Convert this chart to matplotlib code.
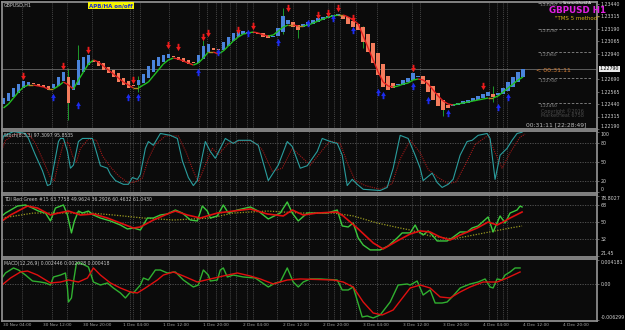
import numpy as np
import matplotlib.pyplot as plt
from matplotlib.path import Path
from matplotlib.collections import LineCollection

# ---- price data (GBPUSD H1, Heikin-Ashi closes) ----
first_open = 1.2244
closes = [1.2250, 1.2255, 1.2260, 1.2264, 1.2267, 1.2266, 1.2264, 1.2262, 1.2261, 1.2258,
          1.2264, 1.2271, 1.2276, 1.2245, 1.2268, 1.2288, 1.2291, 1.2293, 1.2286, 1.2282,
          1.2278, 1.2275, 1.2271, 1.2266, 1.2263, 1.2260, 1.2262, 1.2268, 1.2274, 1.2282,
          1.2288, 1.2291, 1.2293, 1.2294, 1.2291, 1.2288, 1.2286, 1.2284, 1.2285, 1.2293,
          1.2302, 1.2304, 1.2298, 1.2298, 1.2306, 1.2311, 1.2315, 1.2317, 1.2317, 1.2316,
          1.2315, 1.2314, 1.2311, 1.2310, 1.2312, 1.2320, 1.2332, 1.2328, 1.2321, 1.2318,
          1.2324, 1.2326, 1.2328, 1.2330, 1.2331, 1.2332, 1.2333, 1.2334, 1.2329, 1.2324,
          1.2321, 1.2318, 1.2306, 1.2296, 1.2285, 1.2273, 1.2261, 1.2258, 1.2260, 1.2264,
          1.2268, 1.2270, 1.2275, 1.2272, 1.2264, 1.2256, 1.2248, 1.2242, 1.2238, 1.2240,
          1.2244, 1.2245, 1.2247, 1.2248, 1.2250, 1.2252, 1.2254, 1.2256, 1.2251, 1.2255,
          1.2260, 1.2266, 1.2271, 1.2276, 1.2279]
ma = [1.2240, 1.2244, 1.2250, 1.2256, 1.2261, 1.2263, 1.2263, 1.2262, 1.2261, 1.2259,
      1.2259, 1.2262, 1.2266, 1.2263, 1.2259, 1.2268, 1.2276, 1.2284, 1.2288, 1.2286,
      1.2282, 1.2278, 1.2274, 1.2270, 1.2266, 1.2263, 1.2260, 1.2260, 1.2263, 1.2266,
      1.2272, 1.2278, 1.2284, 1.2288, 1.2290, 1.2289, 1.2287, 1.2285, 1.2283, 1.2285,
      1.2290, 1.2296, 1.2296, 1.2294, 1.2297, 1.2302, 1.2307, 1.2311, 1.2314, 1.2315,
      1.2316, 1.2315, 1.2313, 1.2312, 1.2313, 1.2317, 1.2321, 1.2323, 1.2323, 1.2322,
      1.2322, 1.2323, 1.2325, 1.2327, 1.2329, 1.2331, 1.2332, 1.2333, 1.2333, 1.2331,
      1.2328, 1.2324, 1.2312, 1.2300, 1.2288, 1.2276, 1.2266, 1.2262, 1.2261, 1.2262,
      1.2264, 1.2265, 1.2268, 1.2269, 1.2268, 1.2264, 1.2258, 1.2252, 1.2247, 1.2244,
      1.2243, 1.2244, 1.2245, 1.2246, 1.2247, 1.2248, 1.2249, 1.2250, 1.2250, 1.2252,
      1.2256, 1.2260, 1.2264, 1.2268, 1.2271]
wick_bars = [13, 15, 27, 40, 56, 59, 72, 88, 98]
wick_hi = [1.2280, 1.2303, 1.2272, 1.2308, 1.2340, 1.2322, 1.2322, 1.2244, 1.2262]
wick_lo = [1.2228, 1.2264, 1.2256, 1.2290, 1.2314, 1.2310, 1.2300, 1.2232, 1.2246]

sell_bars = [4, 12, 17, 26, 33, 35, 40, 41, 47, 50, 57, 63, 65, 67, 70, 82, 96]
sell_px = [1.2272, 1.2282, 1.2298, 1.2268, 1.2303, 1.2301, 1.2311, 1.2315, 1.2318,
           1.2322, 1.2340, 1.2333, 1.2335, 1.2340, 1.2330, 1.2280, 1.2262]
buy_bars = [10, 15, 25, 27, 39, 43, 49, 55, 61, 66, 70, 75, 76, 82, 85, 89, 99, 101]
buy_px = [1.2251, 1.2243, 1.2251, 1.2251, 1.2276, 1.2296, 1.2315, 1.2306, 1.2325,
          1.2330, 1.2318, 1.2256, 1.2253, 1.2262, 1.2248, 1.2235, 1.2241, 1.2251]

price_ticks = [1.23440, 1.23315, 1.23190, 1.23065, 1.22940,
               1.22690, 1.22565, 1.22440, 1.22315, 1.22190]
pivot_levels = [1.2345, 1.2319, 1.2296, 1.2270, 1.2245]

# ---- stochastic ----
stoch_t = [-0.3, 0, 2, 4.4, 5, 6.4, 7.8, 8.8, 9.4, 10, 11, 11.4, 12, 12.8, 13.4, 14, 15, 15.8,
           17.8, 18.4, 19.4, 20.8, 21.4, 22.4, 24, 25, 25.8, 26.8, 27.4, 28.4, 29, 30, 31.4,
           33.4, 34.8, 35.8, 37, 38, 38.8, 40.4, 41.4, 42.4, 44.4, 46, 47, 49.4, 51, 53, 55,
           56.8, 57.8, 59.4, 60.8, 62.8, 63.8, 65.4, 66.8, 67.8, 68.8, 69.8, 70.8, 72, 75.4,
           76.8, 78, 79.4, 81, 82.4, 83.4, 84, 85.8, 86.8, 87.8, 89, 90, 91.4, 92.8, 93.8, 95,
           96.8, 97.4, 98.4, 99.4, 100.8, 101.8, 102.8, 103.8]
stoch_k = [82, 92, 99, 96, 88, 61, 36, 12, 14, 40, 83, 88, 88, 67, 40, 45, 83, 88, 88, 72,
           44, 40, 30, 20, 14, 14, 25, 22, 30, 72, 83, 77, 96, 93, 88, 52, 25, 12, 20, 83,
           67, 56, 88, 80, 85, 85, 77, 20, 45, 83, 75, 40, 44, 67, 88, 83, 80, 61, 12, 22,
           14, 6, 4, 9, 40, 93, 88, 61, 40, 20, 32, 17, 9, 14, 22, 61, 83, 85, 93, 96,
           88, 22, 61, 72, 85, 96, 98]
sig_t = [-0.3, 0.4, 2.4, 5, 6.4, 7.8, 9.4, 10.2, 11, 12, 13, 13.8, 14.6, 15.4, 17, 18.6, 19.8,
         21.4, 23, 25, 26.4, 27.8, 29, 30.4, 32.4, 35, 36.6, 38, 39, 40.4, 41.8, 43, 45, 47.4,
         49.8, 51.8, 53.8, 55.8, 57.8, 59.4, 61.4, 63.4, 65.4, 67.4, 69, 70.4, 72.4, 75.4,
         77.8, 79.4, 81.4, 83.4, 85, 87, 89, 90.6, 92.4, 94.4, 97, 98.4, 99.8, 101.4, 103.4, 104.4]
stoch_d = [70, 85, 95, 96, 80, 55, 25, 20, 50, 80, 82, 60, 50, 72, 87, 85, 60, 42, 28, 16,
           18, 24, 55, 78, 92, 92, 65, 35, 18, 45, 72, 62, 80, 84, 84, 70, 35, 40, 72, 60,
           45, 65, 84, 80, 45, 20, 12, 6, 15, 55, 85, 65, 38, 25, 15, 18, 45, 78, 93, 65,
           40, 65, 90, 95]

# ---- TDI ----
tdi_gt = [-0.3, 0.4, 2.8, 4.4, 5.8, 7, 8.4, 9.4, 10.4, 12, 12.8, 13.6, 14.2, 15, 15.8, 17, 18,
          19.4, 21.4, 23.4, 24.8, 26, 27.4, 28.8, 30, 31.4, 32.8, 34.4, 35.8, 37.4, 38.8, 39.8,
          40.8, 41.4, 42.8, 44, 45, 46.8, 49.4, 51, 53, 55.4, 56.8, 57.8, 59, 60.8, 64.8, 66.8,
          67.8, 69, 70, 71, 72, 73.4, 75.4, 77, 78.8, 79.8, 81.4, 82.4, 83, 84, 85, 85.8, 86.8,
          88.8, 89.8, 91.4, 92.8, 93.8, 95, 97, 98, 99.4, 100.4, 101.4, 102.8, 103.4, 103.8]
tdi_green = [56.4, 59.5, 66.9, 68, 64.8, 61.6, 59.5, 51.1, 64.8, 68, 57.4, 38.4, 51.1, 61.6,
             59.5, 61.6, 57.4, 54.2, 51.1, 46.8, 42.6, 43.6, 41.5, 54.2, 54.2, 57.4, 58.5,
             62.7, 59.5, 52.1, 51.1, 66.9, 61.6, 54.2, 56.4, 68, 59.5, 62.7, 65.9, 61.6, 53.2,
             59.5, 71.2, 59.5, 51.1, 59.5, 59.5, 62.7, 45.8, 44.7, 48.9, 33.1, 25.6, 20.4,
             20.4, 24.6, 33.1, 38.4, 38.4, 46.8, 40.5, 36.2, 40.5, 36.2, 29.9, 29.9, 33.1,
             39.4, 39.4, 43.6, 45.8, 55.3, 39.4, 56.4, 48.9, 59.5, 62.7, 66.9, 65.9]
tdi_rt = [-0.3, 1.4, 4.8, 6.8, 9.4, 11, 13, 15.4, 18, 20.8, 23.4, 26, 27.4, 30, 32.8, 34.4,
          36.8, 39.4, 42.8, 46, 49.4, 52.8, 56, 57.8, 60, 62.8, 66.8, 68, 70.8, 74, 76, 78.8,
          81.4, 83.4, 85.4, 87.4, 89.4, 91.4, 94.8, 97, 98.8, 100, 101.4, 103.8]
tdi_red = [51.1, 57.4, 66.9, 64.8, 57.4, 59.5, 61.6, 57.4, 58.5, 54.2, 48.9, 43.6, 44.7, 52.1,
           58.5, 61.6, 57.4, 54.2, 59.5, 61.6, 63.8, 58.5, 56.4, 62.7, 57.4, 59.5, 60.6, 56.4,
           43.6, 27.8, 21.4, 29.9, 37.3, 40.5, 39.4, 34.1, 30.9, 36.2, 43.6, 50, 46.8, 50,
           54.2, 60.6]
tdi_yt = [-0.3, 6, 12.8, 17.4, 22, 28, 34, 41.4, 46, 52.8, 59.4, 66, 70, 74.8, 79.4, 81.4,
          85.4, 90, 101.4, 103.8]
tdi_yellow = [54.2, 59.5, 59.5, 59.5, 57.4, 54.2, 52.1, 54.2, 59.5, 61.6, 59.5, 59.5, 56.4,
              48.9, 43.6, 41.5, 35.2, 32, 43.6, 45.8]

# ---- MACD (pips, 1e-4) ----
macd_gt = [-0.3, 0.4, 2, 3, 4.4, 5.8, 7.4, 8.4, 9.4, 10, 11.4, 12.4, 12.8, 13, 13.6, 14, 14.6,
           15.4, 17, 18, 19.4, 20.8, 22, 23.4, 24.4, 25.4, 26, 27.4, 28, 29, 30.4, 31.4, 32.8,
           34.4, 36, 38, 39, 40, 41, 41.4, 42.8, 43.4, 44, 44.8, 46, 48, 50.4, 53, 54.4, 55.4,
           56.8, 58, 59, 60, 61.4, 63.4, 66.8, 67.8, 69, 70, 71.8, 72.8, 74, 75.4, 77.4, 79,
           80.8, 81.4, 82.8, 84, 85.4, 86.4, 87.8, 88.8, 89.8, 91.4, 92.4, 93.4, 95, 96.4,
           97.4, 98, 98.8, 99.8, 100.4, 101.4, 102.4, 103.4]
macd_main = [10, 18.4, 26.8, 23.4, 15, 5, 3.3, 1.7, -1.7, 11.7, 15, 18.4, -6.7, -30.1, -23.4,
             3.3, 35.1, 35.1, 28.4, 3.3, -1.7, 1.7, -6.7, -15, -23.4, -13.4, -15, -1.7, 10,
             6.7, 23.4, 23.4, 18.4, 20.1, 6.7, -5, -1.7, 23.4, 15, 5, 6.7, 23.4, 26.8, 11.7,
             15, 11.7, 10, -5, 1.7, 3.3, 26.8, 3.3, -5, 3.3, 8.4, 8.4, 6.7, -10, -10, -5,
             -55.2, -53.5, -56.8, -51.8, -30.1, -1.7, 0, -1.7, 5, -18.4, -10, -31.8, -31.8,
             -30.1, -21.7, -6.7, -3.3, 0, 3.3, 8.4, -5, -6.7, 8.4, 6.7, 15, 20.1, 26.8, 26.8]
macd_rt = [-0.3, 1.4, 3.4, 4.8, 6.8, 9.4, 11.4, 13, 15, 16.8, 18, 19.4, 21.4, 23.4, 25.4, 26.8,
           28.4, 30.8, 32, 34, 36, 38.8, 41.4, 44, 46.8, 49.4, 51.4, 54, 56.8, 59.4, 66, 68, 70,
           72, 74, 75.8, 78, 81.4, 83.4, 85.4, 87.4, 89.4, 91.4, 93.4, 96, 98.8, 100.8, 103.4]
macd_signal = [-1.7, 10, 20.1, 21.7, 15, 1.7, 3.3, 6.7, 3.3, 10, 26.8, 15, 1.7, -6.7, -13.4,
               -15, -6.7, 6.7, 15, 20.1, 13.4, 3.3, 8.4, 13.4, 18.4, 13.4, 8.4, 0, 6.7, 8.4,
               6.7, 3.3, -5, -30.1, -48.5, -51.8, -43.5, -6.7, -1.7, -6.7, -21.7, -23.4,
               -13.4, -5, 3.3, 3.3, 10, 20.1]

# ---- time axis ----
sep_t = [3.8, 9.8, 12.8, 17.8, 25.4, 26, 27.4, 33.2, 39.2, 40.8, 42.6, 43.6, 45.4, 46.6,
         48.8, 50, 54.8, 58, 61.2, 65, 66.2, 67.4, 70.6, 74.8, 81.8, 83.4, 97.2, 98.8, 100, 100.8]
time_pos = [0, 8, 16, 24, 32, 40, 48, 56, 64, 72, 80, 88, 96, 104, 112]
time_labels = ['30 Nov 04:00', '30 Nov 12:00', '30 Nov 20:00', '1 Dec 04:00', '1 Dec 12:00',
               '1 Dec 20:00', '2 Dec 04:00', '2 Dec 12:00', '2 Dec 20:00', '3 Dec 04:00',
               '3 Dec 12:00', '3 Dec 20:00', '4 Dec 04:00', '4 Dec 12:00', '4 Dec 20:00']

W, H = 625, 330
BG = '#0b0b0b'
GRID = '#5a5a5a'
FRAME = '#8c8c8c'
TXT = '#d0d0d0'
X0, X1 = -0.3, 118.8

fig = plt.figure(figsize=(W / 100, H / 100), dpi=100, facecolor='black')


def panel(top, bottom):
    ax = fig.add_axes([2 / W, 1 - bottom / H, 595 / W, (bottom - top) / H])
    ax.set_facecolor(BG)
    for s in ax.spines.values():
        s.set_color(FRAME)
        s.set_linewidth(1.3)
    ax.set_xlim(X0, X1)
    ax.set_xticks([])
    ax.yaxis.tick_right()
    ax.tick_params(axis='y', colors=FRAME, labelcolor=TXT, labelsize=3.4,
                   length=1.5, width=0.5, pad=1)
    for t in sep_t:
        ax.axvline(t, color=GRID, lw=0.5, ls=(0, (1.5, 1.5)), zorder=0)
    return ax


def edge_labels(ax):
    labs = ax.get_yticklabels()
    labs[0].set_va('top')
    labs[-1].set_va('bottom')


ax_p = panel(2, 129)
ax_s = panel(131, 193)
ax_t = panel(195, 257)
ax_m = panel(259, 321)

# ---- main price panel ----
c = np.array(closes)
o = np.empty_like(c)
o[0] = first_open
for i in range(1, len(c)):
    o[i] = (o[i - 1] + c[i - 1]) / 2
bars = np.arange(len(c))

ax_p.vlines(wick_bars, wick_lo, wick_hi, color='#1f9a2a', lw=0.7, zorder=1)
cols = np.where(c >= o, '#4a84dc', '#f47c5c')
ax_p.bar(bars, c - o, bottom=o, width=0.72, color=cols, linewidth=0, zorder=2)

ma_a = np.array(ma)
pts = np.column_stack([bars, ma_a])
segs = np.stack([pts[:-1], pts[1:]], axis=1)
seg_cols = ['#22c022' if d > 0.00005 else '#e02020' if d < -0.00005 else '#b08a20'
            for d in np.diff(ma_a)]
ax_p.add_collection(LineCollection(segs, colors=seg_cols, linewidths=1.0, zorder=3))

down = Path([(-0.25, 1), (0.25, 1), (0.25, 0.15), (0.65, 0.15), (0, -1),
             (-0.65, 0.15), (-0.25, 0.15), (-0.25, 1)], closed=True)
up = Path([(-0.25, -1), (0.25, -1), (0.25, -0.15), (0.65, -0.15), (0, 1),
           (-0.65, -0.15), (-0.25, -0.15), (-0.25, -1)], closed=True)
ax_p.scatter(sell_bars, sell_px, marker=down, s=28, color='#ee1c1c', linewidths=0, zorder=4)
ax_p.scatter(buy_bars, buy_px, marker=up, s=28, color='#1c2cf0', linewidths=0, zorder=4)

ax_p.axhline(c[-1], color='#6a6a6a', lw=0.6, zorder=1)
ax_p.hlines(pivot_levels, 107, 117.8, colors='#8a8a8a', lw=0.6, ls=(0, (3, 2)), zorder=1)
for lv in pivot_levels:
    ax_p.text(107.3, lv - 0.00005, '%.5f' % lv, fontsize=3.1, color='#8f8f8f', va='top')

ax_p.set_ylim(1.2219, 1.2346)
ax_p.set_yticks(price_ticks)
ax_p.set_yticklabels(['%.5f' % p for p in price_ticks])
ax_p.get_yticklabels()[-1].set_va('bottom')
ax_p.text(1.004, c[-1], '%.5f' % c[-1], transform=ax_p.get_yaxis_transform(), fontsize=3.4,
          color='black', va='center', ha='left',
          bbox=dict(boxstyle='square,pad=0.15', fc='#e8e8e8', ec='none'))

fig.text(4 / W, 1 - 5 / H, 'GBPUSD,H1', fontsize=3.4, color='#c8c8c8', va='center')
fig.text(111 / W, 1 - 5.5 / H, 'APB/HA on/off', fontsize=4, color='#1a2ad0', weight='bold',
         ha='center', va='center', bbox=dict(boxstyle='square,pad=0.15', fc='#f5f500', ec='none'))
fig.text(577 / W, 1 - 3.5 / H, 'ScreenShotEA', fontsize=3, color='#e0e0e0', ha='center', va='center')
fig.text(578 / W, 1 - 10.8 / H, 'GBPUSD H1', fontsize=6.3, color='#e020e0', weight='bold',
         ha='center', va='center')
fig.text(577 / W, 1 - 18 / H, '"TMS 5 method"', fontsize=4, color='#d4b21a', ha='center', va='center')
fig.text(536 / W, 1 - 71 / H, '< 00:31:11', fontsize=4.5, color='#d8823a', ha='left', va='center')
fig.text(562 / W, 1 - 113 / H, 'Copyright \u00a92016\nMarketHeat 6758', fontsize=3.5,
         color='#4a4a4a', ha='center', va='center', linespacing=0.9)
fig.text(556 / W, 1 - 125 / H, '00:31:11 [22:28:49]', fontsize=4.3, color='#bdbdbd',
         ha='center', va='center')

# ---- stochastic panel ----
for lv in [80, 50, 20]:
    ax_s.axhline(lv, color=GRID, lw=0.6, ls=(0, (1.5, 1.5)), zorder=0)
ax_s.plot(sig_t, stoch_d, color='#a01818', lw=0.8, ls=(0, (1, 1)))
ax_s.plot(stoch_t, stoch_k, color='#2a9d9d', lw=0.8)
ax_s.set_ylim(0, 100)
ax_s.set_yticks([99, 80, 50, 20, 1])
ax_s.set_yticklabels(['100', '80', '50', '20', '0'])
ax_s.get_yticklabels()[0].set_va('top')
ax_s.get_yticklabels()[-1].set_va('bottom')
ax_s.text(0.004, 0.96, 'Stoch(8,3,3) 97.3097 95.8535', transform=ax_s.transAxes,
          fontsize=3.3, color='#c8c8c8', va='top')

# ---- TDI panel ----
for lv in [68, 50, 32]:
    ax_t.axhline(lv, color=GRID, lw=0.6, ls=(0, (1.5, 1.5)), zorder=0)
ax_t.plot(tdi_yt, tdi_yellow, color='#9a9a20', lw=0.9, ls=(0, (1, 1.2)))
ax_t.plot(tdi_gt, tdi_green, color='#3cc83c', lw=1.0)
ax_t.plot(tdi_rt, tdi_red, color='#e01010', lw=1.2)
ax_t.set_ylim(12.9, 78.6)
ax_t.set_yticks([77.8, 68, 50, 32, 13.8])
ax_t.set_yticklabels(['78.8027', '68', '50', '32', '21.45'])
ax_t.get_yticklabels()[0].set_va('top')
ax_t.get_yticklabels()[-1].set_va('bottom')
ax_t.text(0.004, 0.96, 'TDI Red Green #15 63.7758 49.9624 36.2926 60.4632 61.0430',
          transform=ax_t.transAxes, fontsize=3.3, color='#c8c8c8', va='top')

# ---- MACD panel ----
ax_m.axhline(0, color=GRID, lw=0.6, ls=(0, (1.5, 1.5)), zorder=0)
ax_m.plot(macd_gt, macd_main, color='#30b030', lw=1.0)
ax_m.plot(macd_rt, macd_signal, color='#e01010', lw=1.0)
ax_m.set_ylim(-61.9, 41.8)
ax_m.set_yticks([40.8, 0, -60.9])
ax_m.set_yticklabels(['0.004181', '0.00', '-0.006299'])
ax_m.get_yticklabels()[0].set_va('top')
ax_m.get_yticklabels()[-1].set_va('bottom')
ax_m.text(0.004, 0.96, 'MACD(12,26,9) 0.002446 0.002028 0.000418', transform=ax_m.transAxes,
          fontsize=3.3, color='#c8c8c8', va='top')

for t, lab in zip(time_pos, time_labels):
    ax_m.text(t, -0.03, lab, transform=ax_m.get_xaxis_transform(), fontsize=3.1,
              color='#a8a8a8', va='top', ha='left')

fig.savefig('out.png', dpi=100, facecolor='black')
